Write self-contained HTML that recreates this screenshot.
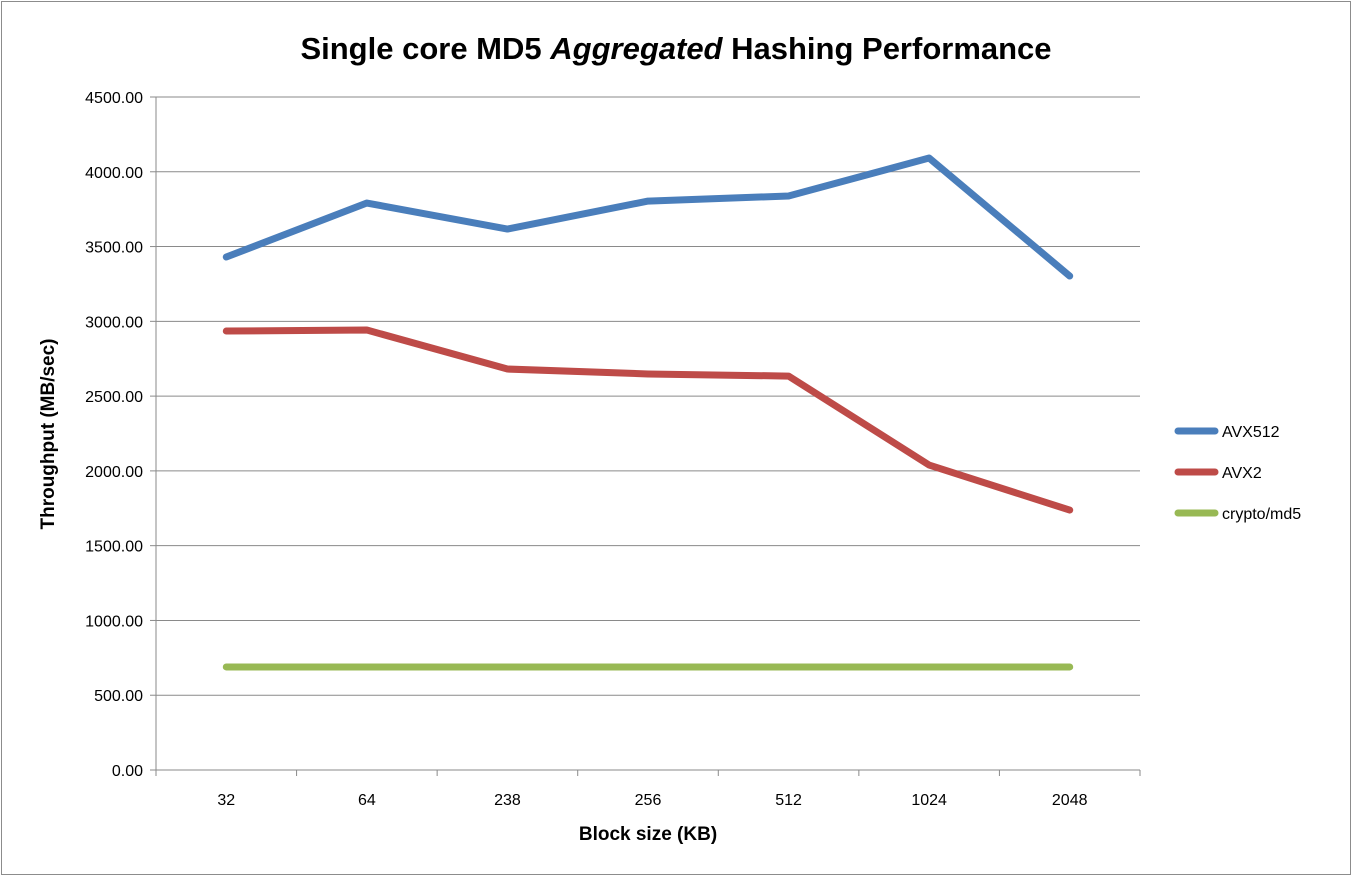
<!DOCTYPE html>
<html><head><meta charset="utf-8"><style>
body{margin:0;background:#fff;}
svg text{font-family:"Liberation Sans",sans-serif;}
</style></head><body>
<svg width="1353" height="877" xmlns="http://www.w3.org/2000/svg">
<rect x="1.5" y="1.5" width="1349" height="873" fill="#fff" stroke="#8c8c8c"/>
<text x="676" y="59" font-size="31" font-weight="bold" text-anchor="middle">Single core MD5 <tspan font-style="italic">Aggregated</tspan> Hashing Performance</text>
<g id="grid"></g><g id="axes"></g><g id="series"></g><g id="legend"></g>
<text x="648" y="840" font-size="19" font-weight="bold" text-anchor="middle">Block size (KB)</text>
<text transform="translate(54,434) rotate(-90)" font-size="19" font-weight="bold" text-anchor="middle">Throughput (MB/sec)</text>
</svg>
<script>
const categories=["32","64","238","256","512","1024","2048"];
const avx512=[3430,3791,3617,3804,3838,4092,3303];
const avx2=[2935,2942,2681,2648,2634,2039,1738];
const cryptoMd5=[689,689,689,689,689,689,689];
const yTicks=[0,500,1000,1500,2000,2500,3000,3500,4000,4500];
const seriesNames=["AVX512","AVX2","crypto/md5"];
const NS="http://www.w3.org/2000/svg";
const L=156,R=1140,T=97,B=770,YMAX=4500;
const step=(R-L)/categories.length;
const xs=i=>L+step*(i+0.5);
const ys=v=>B-(v/YMAX)*(B-T);
function mk(tag,attrs,parent){const e=document.createElementNS(NS,tag);for(const k in attrs)e.setAttribute(k,attrs[k]);parent.appendChild(e);return e;}
const grid=document.getElementById('grid'),axes=document.getElementById('axes'),ser=document.getElementById('series'),leg=document.getElementById('legend');
yTicks.forEach(v=>{
 const y=ys(v);
 if(v>0){const g=mk('line',{x1:L,x2:R,y1:y,y2:y,stroke:'#8a8a8a','stroke-width':1},grid);
 
 }
 mk('line',{x1:L-6,x2:L,y1:y,y2:y,stroke:'#8a8a8a'},axes);
 const t=mk('text',{x:L-13,y:y+6,'font-size':16,'text-anchor':'end'},axes);
 t.textContent=v.toFixed(2);
 
 
});
const ya=mk('line',{x1:L,x2:L,y1:T,y2:B,stroke:'#8a8a8a'},axes);


const xa=mk('line',{x1:L,x2:R,y1:B,y2:B,stroke:'#8a8a8a'},axes);


for(let i=0;i<=categories.length;i++){mk('line',{x1:L+step*i,x2:L+step*i,y1:B,y2:B+6,stroke:'#8a8a8a'},axes);}
categories.forEach((c,i)=>{
 const t=mk('text',{x:xs(i),y:B+35,'font-size':16,'text-anchor':'middle'},axes);
 t.textContent=c;
 
 
});
const colors=['#4a7ebb','#be4b48','#98b954'];
[avx512,avx2,cryptoMd5].forEach((d,s)=>{
 const p=mk('polyline',{points:d.map((v,i)=>xs(i)+','+ys(v)).join(' '),fill:'none',stroke:colors[s],'stroke-width':7,'stroke-linejoin':'round','stroke-linecap':'round'},ser);
 
 
 const ly=431+s*41;
 const ll=mk('line',{x1:1178,x2:1215,y1:ly,y2:ly,stroke:colors[s],'stroke-width':7,'stroke-linecap':'round'},leg);
 
 
 const lt=mk('text',{x:1222,y:ly+6,'font-size':16},leg);
 lt.textContent=seriesNames[s];
 
 
});
</script>
</body></html>
